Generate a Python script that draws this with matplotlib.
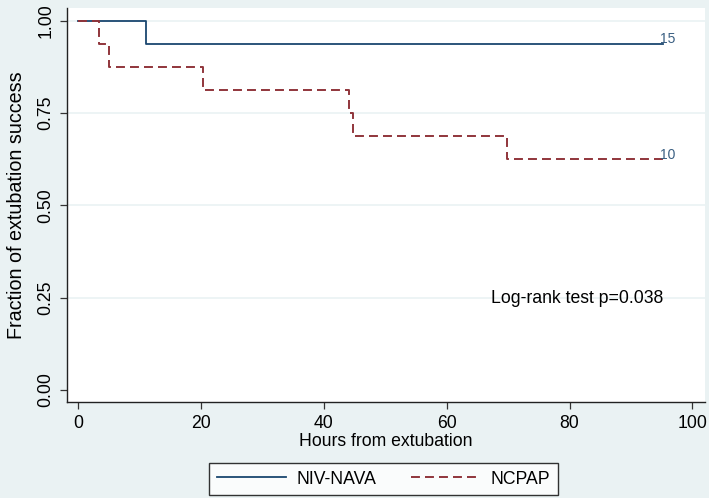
import matplotlib
matplotlib.use("Agg")
import matplotlib.pyplot as plt

plt.rcParams["font.family"] = ["Liberation Sans", "DejaVu Sans"]

# Kaplan-Meier step data (hours, fraction)
nava_t = [0, 11.1, 95.2]
nava_s = [1.0, 0.9375, 0.9375]
ncpap_t = [0, 3.4, 5.0, 20.3, 44.1, 44.8, 69.8, 95.2]
ncpap_s = [1.0, 0.9375, 0.875, 0.8125, 0.75, 0.6875, 0.625, 0.625]

at_risk = ["15", "10"]
xticks = [0, 20, 40, 60, 80, 100]
yticks = [0.0, 0.25, 0.5, 0.75, 1.0]

bg = "#eaf2f3"
navy = "#1a476f"
maroon = "#90353b"
fs = 12.7

fig = plt.figure(figsize=(7.09, 4.98), dpi=100, facecolor=bg)
ax = fig.add_axes([67 / 709, 1 - 402 / 498, 638 / 709, 394 / 498])
ax.set_facecolor("white")

for y in yticks[1:]:
    ax.axhline(y, color=bg, lw=1.2, zorder=0)

ax.step(nava_t, nava_s, where="post", color=navy, lw=1.3, label="NIV-NAVA")
ax.step(ncpap_t, ncpap_s, where="post", color=maroon, lw=1.4,
        linestyle=(0, (4.6, 2.6)), label="NCPAP")

ax.text(nava_t[-1] - 0.4, nava_s[-1] + 0.012, at_risk[0], color="#3a5f82",
        fontsize=10, va="center", ha="left")
ax.text(ncpap_t[-1] - 0.4, ncpap_s[-1] + 0.012, at_risk[1], color="#3a5f82",
        fontsize=10, va="center", ha="left")

ax.text(81.2, 0.2485, "Log-rank test p=0.038", fontsize=fs, va="center",
        ha="center")

ax.set_xlim(-1.84, 102.05)
ax.set_ylim(-0.0325, 1.034)
ax.set_xticks(xticks)
ax.set_yticks(yticks)
ax.set_yticklabels(["%.2f" % v for v in yticks], rotation=90, va="center")
ax.tick_params(labelsize=fs, length=5, width=0.9, color="#333333", pad=4)
for side in ["top", "right"]:
    ax.spines[side].set_visible(False)
for side in ["left", "bottom"]:
    ax.spines[side].set_color("#222222")
    ax.spines[side].set_linewidth(1.0)

ax.set_xlabel("Hours from extubation", fontsize=fs, labelpad=1)
ax.set_ylabel("Fraction of extubation success", fontsize=14.2, labelpad=8)

leg = fig.legend(loc="center", bbox_to_anchor=(383.5 / 709, 1 - 479 / 498),
                 ncol=2, fontsize=fs, frameon=True, fancybox=False,
                 edgecolor="black", handlelength=3.9, handletextpad=0.6,
                 columnspacing=2.0, borderpad=0.45)
leg.get_frame().set_linewidth(1.0)

fig.savefig("out.png", dpi=100, facecolor=bg)
